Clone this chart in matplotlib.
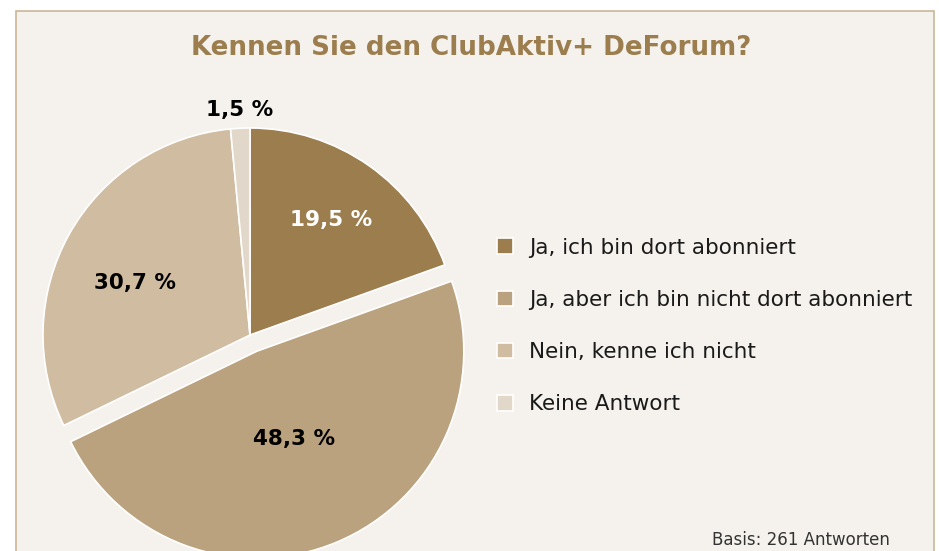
"""Pie chart: awareness of the ClubAktiv+ DeForum."""

import matplotlib

matplotlib.use("Agg")
import matplotlib.pyplot as plt
from matplotlib.patches import Rectangle
import numpy as np

# Survey answers, in pie order (clockwise from 12 o'clock).
answers = [
    "Ja, ich bin dort abonniert",
    "Ja, aber ich bin nicht dort abonniert",
    "Nein, kenne ich nicht",
    "Keine Antwort",
]
shares = [19.5, 48.3, 30.7, 1.5]
title = "Kennen Sie den ClubAktiv+ DeForum?"
note = "Basis: 261 Antworten"

colors = ["#9c7e4e", "#bba27e", "#cfbca1", "#e2d8c9"]
label_colors = ["white", "black", "black", "black"]
label_dist = [0.68, 0.46, 0.61, 1.09]
label_turn = [0, 0, 5, 0]  # small angular nudge of a label, degrees

CREAM = "#f5f2ed"
GOLD = "#9c7e4e"
W, H = 939, 551

fig = plt.figure(figsize=(W / 100, H / 100), dpi=100, facecolor="white")
# one axes covering the whole figure, with pixel units (y up)
ax = fig.add_axes([0, 0, 1, 1])

# cream panel with a thin tan frame (open at the bottom)
ax.add_patch(Rectangle((16, -20), 918, H - 11 + 20, facecolor=CREAM,
                       edgecolor="#c9b697", linewidth=1.2, zorder=0))

cx, cy, radius = 250, H - 335, 207
# pie explode is in data units here (pixels), so scale by the radius
explode = [0, 0.085 * radius, 0, 0]
wedges, _ = ax.pie(
    shares,
    colors=colors,
    explode=explode,
    startangle=90,
    counterclock=False,
    center=(cx, cy),
    radius=radius,
    wedgeprops=dict(edgecolor="white", linewidth=1.2),
    frame=True,
)
ax.set_xlim(0, W)
ax.set_ylim(0, H)
ax.set_aspect("equal")
ax.axis("off")

for wedge, value, dist, turn, tcolor in zip(wedges, shares, label_dist,
                                            label_turn, label_colors):
    mid = np.deg2rad((wedge.theta1 + wedge.theta2) / 2 + turn)
    wx, wy = wedge.center
    ax.text(wx + radius * dist * np.cos(mid), wy + radius * dist * np.sin(mid),
            f"{value:.1f}".replace(".", ",") + " %",
            ha="center", va="center", fontsize=15.5, fontweight="bold",
            color=tcolor)

ax.text(471, H - 48, title, ha="center", va="center", fontsize=18.8,
        fontweight="bold", color=GOLD)

ax.legend(wedges, answers, loc="center left",
          bbox_to_anchor=(478 / W, 1 - 326 / H),
          frameon=False, fontsize=15.5, handlelength=0.72, handleheight=0.72,
          handletextpad=0.75, labelspacing=1.5, labelcolor="#1a1a1a")

ax.text(890, H - 540, note, ha="right", va="center", fontsize=12,
        color="#333333")

fig.savefig("out.png", dpi=100, facecolor="white")
